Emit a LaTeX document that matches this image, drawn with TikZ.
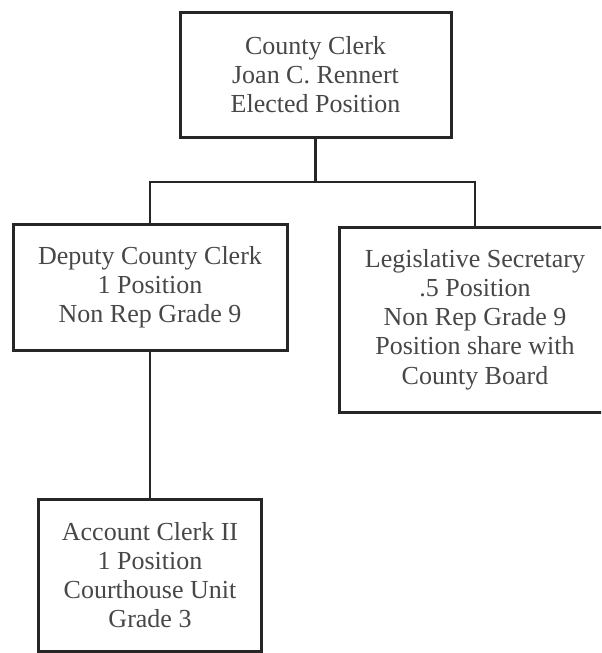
\documentclass[tikz,border=0pt]{standalone}
\usepackage{fontspec}
\setmainfont{Liberation Serif}
\definecolor{linegray}{rgb}{0.15, 0.15, 0.15}
\definecolor{textgray}{rgb}{0.28, 0.28, 0.28}

\begin{document}
\begin{tikzpicture}[x=0.5pt, y=-0.5pt,
    box/.style={draw=linegray, line width=1.5pt, align=center, inner sep=0pt,
                text=textgray, font=\fontsize{13}{14.6}\selectfont},
    link/.style={draw=linegray, line width=1.4pt}]
            \useasboundingbox (0,0) rectangle (601,653);
            \clip (0,0) rectangle (601,653);
            \node[box, minimum width=135.5pt, minimum height=62.5pt] (clerk) at (315.5,74.5)
                {County Clerk\\Joan C. Rennert\\Elected Position};
            \node[box, minimum width=137pt, minimum height=63pt] (deputy) at (150,287)
                {Deputy County Clerk\\1 Position\\Non Rep Grade 9};
            \node[box, minimum width=136pt, minimum height=92.5pt] (legsec) at (475,319.5)
                {Legislative Secretary\\.5 Position\\Non Rep Grade 9\\Position share with\\County Board};
            \node[box, minimum width=111.5pt, minimum height=76pt] (account) at (150,575)
                {Account Clerk II\\1 Position\\Courthouse Unit\\Grade 3};
            \coordinate (bus) at (315.5,182);
            \draw[link] (clerk.south) -- (bus);
            \draw[link] (deputy.north) |- (bus) -| (legsec.north);
            \draw[link] (deputy.south) -- (account.north);
        \end{tikzpicture}
\end{document}
